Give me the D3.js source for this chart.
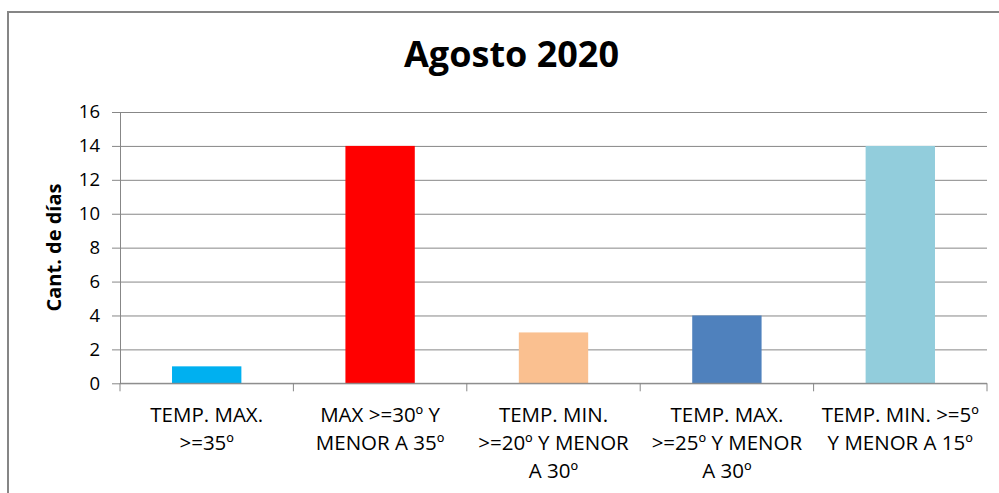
<!DOCTYPE html>
<html lang="es">
<head>
<meta charset="utf-8">
<title>Agosto 2020</title>
<script src="https://d3js.org/d3.v7.min.js"></script>
<style>
  body { margin: 0; background: #fff; }
  svg { display: block; font-family: "Open Sans", sans-serif; }
</style>
</head>
<body>
<div id="chart"></div>
<script>
// data
var categories = [
  ["TEMP. MAX.", ">=35º"],
  ["MAX >=30º Y", "MENOR A 35º"],
  ["TEMP. MIN.", ">=20º Y MENOR", "A 30º"],
  ["TEMP. MAX.", ">=25º Y MENOR", "A 30º"],
  ["TEMP. MIN. >=5º", "Y MENOR A 15º"]
];
var values = [1, 14, 3, 4, 14];
var barColors = ["#00B0F0", "#FF0000", "#FAC090", "#4F81BD", "#92CDDC"];
var yTicks = [0, 2, 4, 6, 8, 10, 12, 14, 16];

var W = 999, H = 493;
var plot = {left: 120, right: 987, top: 112, bottom: 383.3};

var svg = d3.select("#chart").append("svg")
    .attr("width", W)
    .attr("height", H);

svg.append("rect").attr("width", W).attr("height", H).attr("fill", "#fff");

// chart frame (only left and top edges are visible)
svg.append("path")
    .attr("d", "M8," + H + "V12H" + W)
    .attr("fill", "none")
    .attr("stroke", "#868686")
    .attr("stroke-width", 2);

var keys = d3.range(categories.length);

var x = d3.scaleBand()
    .domain(keys)
    .range([plot.left, plot.right])
    .padding(0);

var y = d3.scaleLinear()
    .domain([0, 16])
    .range([plot.bottom, plot.top]);

// gridlines
svg.append("g")
    .attr("transform", "translate(" + plot.left + ",0)")
    .call(d3.axisRight(y).tickValues(yTicks).tickSize(plot.right - plot.left).tickFormat(""))
    .call(g => g.select(".domain").remove())
    .call(g => g.selectAll(".tick line").attr("stroke", "#878787"));

// y axis
svg.append("g")
    .attr("transform", "translate(" + plot.left + ",0)")
    .call(d3.axisLeft(y).tickValues(yTicks).tickSize(8).tickSizeOuter(0).tickPadding(12))
    .call(g => g.select(".domain").attr("stroke", "#878787"))
    .call(g => g.selectAll(".tick line").attr("stroke", "#878787"))
    .call(g => g.selectAll(".tick text")
        .attr("font-family", "Open Sans, sans-serif")
        .attr("font-size", 18.5)
        .attr("fill", "#000"));

// bars
var barW = x.bandwidth() * 0.4;
svg.append("g").selectAll("rect")
  .data(values)
  .join("rect")
    .attr("x", (d, i) => x(i) + (x.bandwidth() - barW) / 2)
    .attr("y", d => y(d))
    .attr("width", barW)
    .attr("height", d => y(0) - y(d))
    .attr("fill", (d, i) => barColors[i]);

// x axis line and category ticks
svg.append("line")
    .attr("x1", plot.left).attr("x2", plot.right)
    .attr("y1", y(0)).attr("y2", y(0))
    .attr("stroke", "#878787");

var bounds = keys.map(k => x(k)).concat([x.range()[1]]);
svg.append("g").selectAll("line")
  .data(bounds)
  .join("line")
    .attr("x1", d => d).attr("x2", d => d)
    .attr("y1", y(0)).attr("y2", y(0) + 8)
    .attr("stroke", "#878787");

// category labels
var lab = svg.append("g").selectAll("text")
  .data(categories)
  .join("text")
    .attr("text-anchor", "middle")
    .attr("font-size", 20.5)
    .attr("fill", "#000")
    .attr("transform", (d, i) => "translate(" + (x(i) + x.bandwidth() / 2) + "," + 421.5 + ")");

lab.selectAll("tspan")
  .data(d => d)
  .join("tspan")
    .attr("x", 0)
    .attr("y", (d, j) => j * 28.3)
    .text(d => d);

// y axis title
svg.append("text")
    .attr("transform", "translate(61," + 247.5 + ") rotate(-90)")
    .attr("text-anchor", "middle")
    .attr("font-size", 20)
    .attr("font-weight", 700)
    .attr("fill", "#000")
    .text("Cant. de días");

// chart title
svg.append("text")
    .attr("x", 511.5)
    .attr("y", 67)
    .attr("text-anchor", "middle")
    .attr("font-size", 36)
    .attr("font-weight", 700)
    .attr("fill", "#000")
    .text("Agosto 2020");
</script>
</body>
</html>
